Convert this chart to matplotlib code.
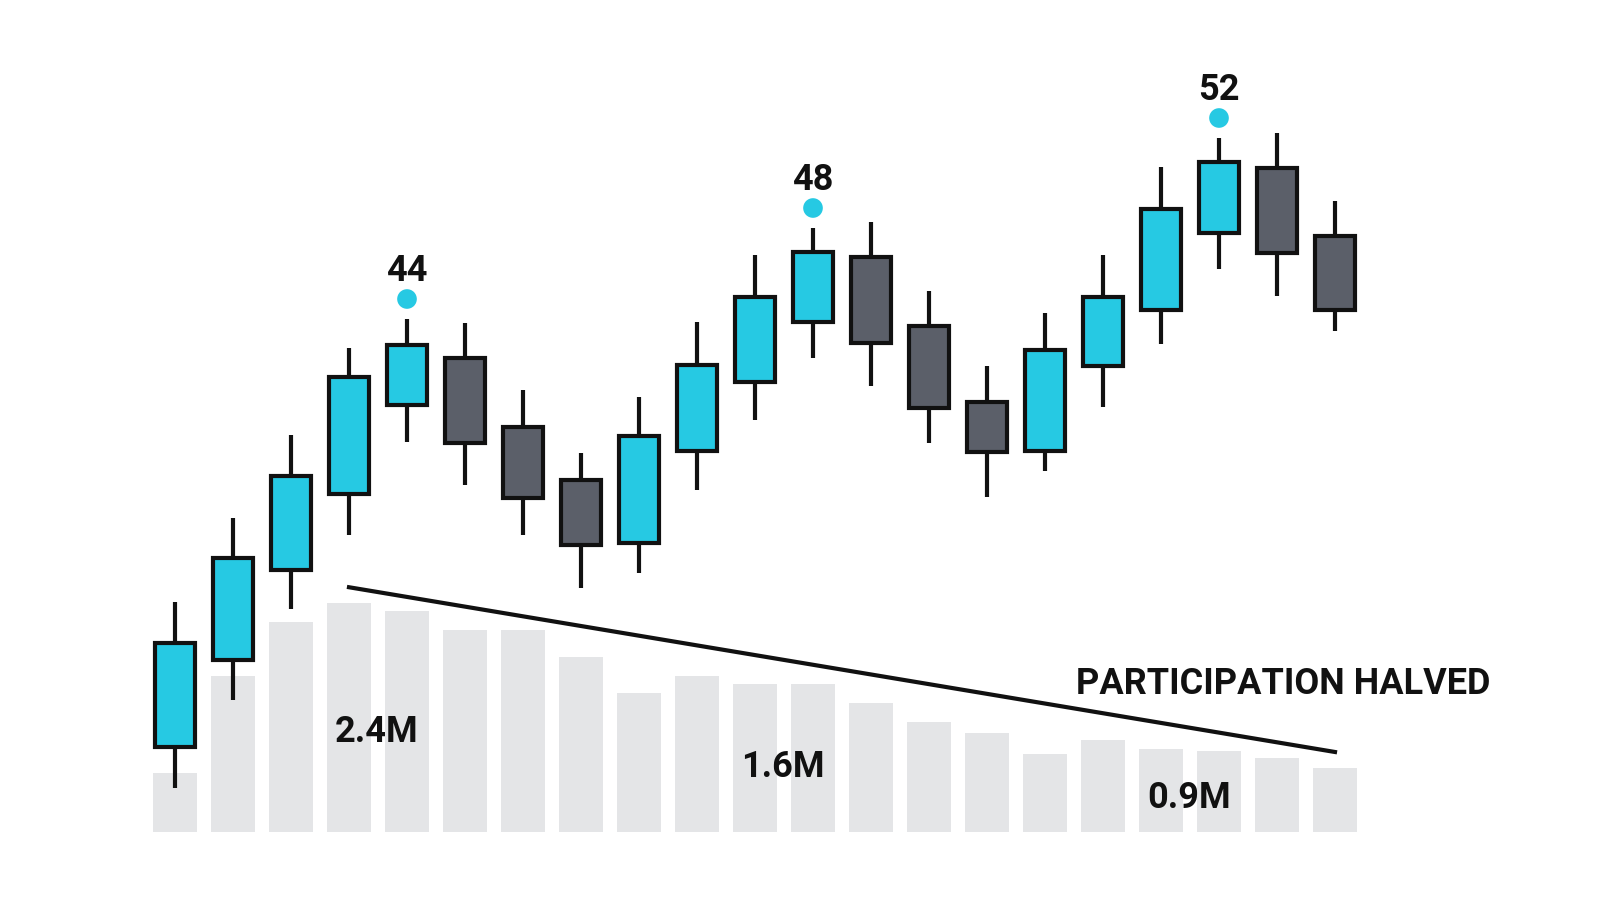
import matplotlib
matplotlib.use("Agg")
import matplotlib.pyplot as plt
from matplotlib.patches import Rectangle

# price units (arbitrary), volume in millions
high  = [29.8,38.2,46.5,55.2,58.1,57.7,51.0,44.7,50.3,57.8,64.5,67.2,67.8,60.9,53.4,58.7,64.5,73.3,76.2,76.7,69.9]
opens = [15.3,24.0,33.0,40.6,49.5,54.2,47.3,42.0,35.7,44.9,51.8,57.8,64.3,57.4,49.8,44.9,53.4,59.0,66.7,73.2,66.4]
close = [25.7,34.2,42.4,52.3,55.5,45.7,40.2,35.5,46.4,53.5,60.3,64.8,55.7,49.2,44.8,55.0,60.3,69.1,73.8,64.7,59.0]
low   = [11.2,20.0,29.1,36.5,45.8,41.5,36.5,31.2,32.7,41.0,48.0,54.2,51.4,45.7,40.3,42.9,49.3,55.6,63.1,60.4,56.9]
volume = [0.62,1.64,2.20,2.40,2.32,2.12,2.12,1.84,1.46,1.64,1.55,1.55,1.35,1.16,1.04,0.82,0.97,0.87,0.85,0.78,0.67]
peak_idx = [4, 11, 18]
peak_labels = ["44", "48", "52"]
vol_label_idx = [4, 11, 18]
vol_labels = ["2.4M", "1.6M", "0.9M"]

BLUE = "#26C9E3"; GRAY = "#5B5F69"; VOL = "#E4E5E7"
fig = plt.figure(figsize=(16, 9.14), dpi=100)
axv = fig.add_axes([0, 0, 1, 1])
ax = axv.twinx()
axv.set_xlim(0, 1600); ax.set_xlim(0, 1600)
ax.set_ylim(-1.4, 90)
axv.set_ylim(-0.861, 8.736)
for a in (ax, axv):
    a.axis("off")

x0, dx = 175, 58
xs = [x0 + i * dx for i in range(len(high))]
axv.bar(xs, volume, width=44, color=VOL, zorder=1)
for x, o, h, l, c in zip(xs, opens, high, low, close):
    col = BLUE if c >= o else GRAY
    ax.plot([x, x], [l, h], color="#111111", lw=3, zorder=2, solid_capstyle="butt")
    ax.add_patch(Rectangle((x - 20, min(o, c)), 40, abs(c - o), facecolor=col,
                           edgecolor="#111111", lw=3, zorder=3))

fam = ['Liberation Sans Narrow', 'Roboto', 'DejaVu Sans']
for i, t in zip(peak_idx, peak_labels):
    ax.scatter([xs[i]], [high[i] + 2.0], s=200, color=BLUE, zorder=4, edgecolors="none")
    ax.text(xs[i], high[i] + 4.8, t, ha="center", va="center", fontsize=26,
            fontweight="bold", family=fam, color="#111111")
for i, t in zip(vol_label_idx, vol_labels):
    axv.text(xs[i] - 30, volume[i] * 0.0 + [1.05, 0.68, 0.36][vol_label_idx.index(i)], t,
             ha="center", va="center", fontsize=26, fontweight="bold", family=fam, color="#111111")

# declining participation line
axv.plot([xs[3], xs[20]], [2.57, 0.84], color="#111111", lw=3, zorder=5)
axv.text(1490, 1.55, "PARTICIPATION HALVED", ha="right", va="center", fontsize=26,
         fontweight="bold", family=fam, color="#111111")

fig.savefig("out.png", dpi=100)
